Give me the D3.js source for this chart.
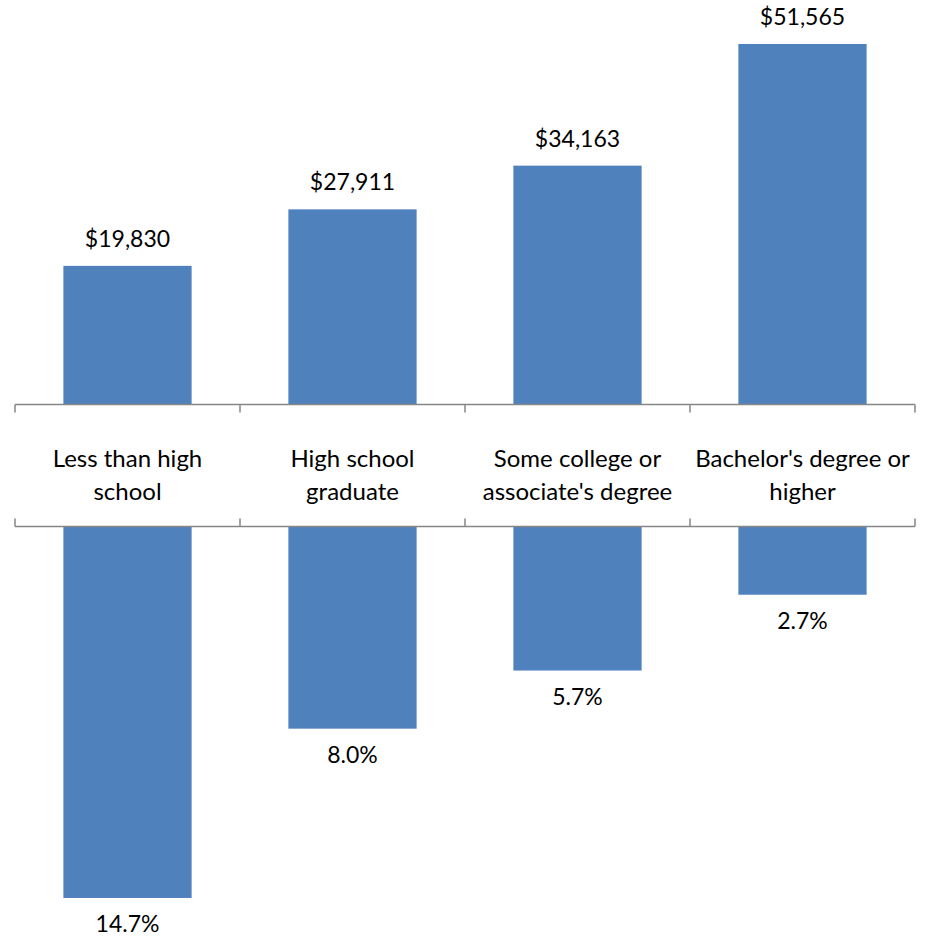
<!DOCTYPE html>
<html>
<head>
<meta charset="utf-8">
<script src="https://cdn.jsdelivr.net/npm/d3@7"></script>
<style>
  html, body { margin: 0; padding: 0; background: #fff; }
  svg { display: block; }
  text { font-family: Lato, "Open Sans", sans-serif; fill: #000; }
</style>
</head>
<body>
<svg id="chart" width="926" height="938"></svg>
<script>
// Education levels
const categories = [
  ["Less than high", "school"],
  ["High school", "graduate"],
  ["Some college or", "associate's degree"],
  ["Bachelor's degree or", "higher"]
];
// Median earnings (upper bars)
const earnings = [19830, 27911, 34163, 51565];
// Unemployment rate, % (lower bars)
const unemployment = [14.7, 8.0, 5.7, 2.7];

const svg = d3.select("#chart");
const barColor = "#4F81BD";
const axisColor = "#868686";

const left = 15, right = 915;
const topBase = 404.5, bottomBase = 526.5;

const x = d3.scaleBand()
  .domain(d3.range(categories.length))
  .range([left, right])
  .paddingInner(0.43)
  .paddingOuter(0.215);

const yTop = d3.scaleLinear().domain([0, 60000]).range([topBase, -15]);
const yBot = d3.scaleLinear().domain([0, 16]).range([bottomBase, bottomBase + 16 * 25.27]);

// Upper bars: earnings
svg.append("g").selectAll("rect")
  .data(earnings)
  .join("rect")
  .attr("x", (d, i) => x(i))
  .attr("width", x.bandwidth())
  .attr("y", d => yTop(d))
  .attr("height", d => yTop(0) - yTop(d))
  .attr("fill", barColor);

svg.append("g").selectAll("text")
  .data(earnings)
  .join("text")
  .attr("x", (d, i) => x(i) + x.bandwidth() / 2)
  .attr("y", d => yTop(d) - 19)
  .attr("text-anchor", "middle")
  .attr("font-size", 23)
  .text(d => "$" + d3.format(",")(d));

// Lower bars: unemployment
svg.append("g").selectAll("rect")
  .data(unemployment)
  .join("rect")
  .attr("x", (d, i) => x(i))
  .attr("width", x.bandwidth())
  .attr("y", yBot(0))
  .attr("height", d => yBot(d) - yBot(0))
  .attr("fill", barColor);

svg.append("g").selectAll("text")
  .data(unemployment)
  .join("text")
  .attr("x", (d, i) => x(i) + x.bandwidth() / 2)
  .attr("y", d => yBot(d) + 34)
  .attr("text-anchor", "middle")
  .attr("font-size", 23)
  .text(d => d3.format(".1f")(d) + "%");

// Category axis lines with boundary ticks
const bounds = d3.range(categories.length + 1).map(i => left + i * x.step());
const axes = svg.append("g").attr("stroke", axisColor).attr("stroke-width", 1.5);
axes.append("line").attr("x1", left).attr("x2", right).attr("y1", topBase).attr("y2", topBase);
axes.append("line").attr("x1", left).attr("x2", right).attr("y1", bottomBase).attr("y2", bottomBase);
axes.selectAll(".tt").data(bounds).join("line")
  .attr("x1", d => d).attr("x2", d => d)
  .attr("y1", topBase).attr("y2", topBase + 8);
axes.selectAll(".bt").data(bounds).join("line")
  .attr("x1", d => d).attr("x2", d => d)
  .attr("y1", bottomBase).attr("y2", bottomBase - 8);

// Category labels
const lbl = svg.append("g").selectAll("text")
  .data(categories)
  .join("text")
  .attr("x", (d, i) => x(i) + x.bandwidth() / 2)
  .attr("y", 467)
  .attr("text-anchor", "middle")
  .attr("font-size", 24);
lbl.selectAll("tspan")
  .data(d => d)
  .join("tspan")
  .attr("x", function () { return d3.select(this.parentNode).attr("x"); })
  .attr("dy", (d, i) => i === 0 ? 0 : 33)
  .text(d => d);
</script>
</body>
</html>
